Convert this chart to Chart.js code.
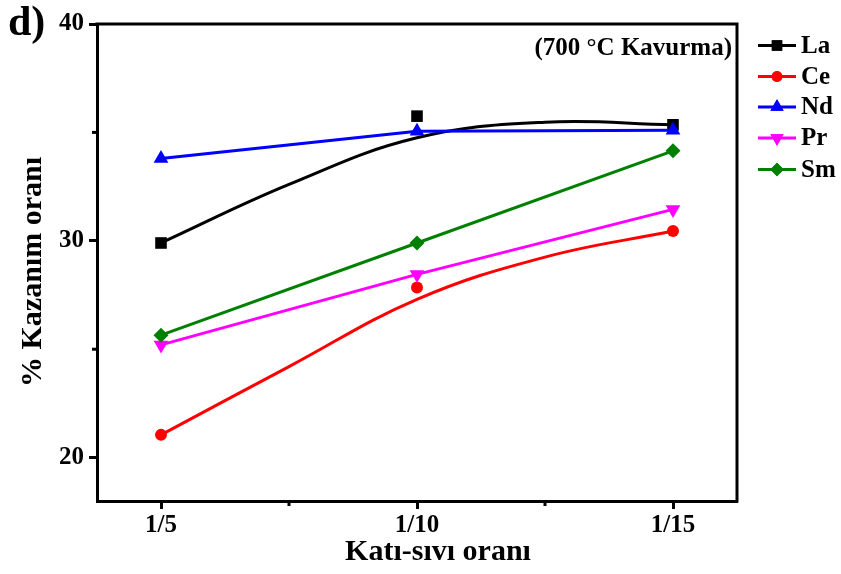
<!DOCTYPE html>
<html>
<head>
<meta charset="utf-8">
<script src="https://cdn.jsdelivr.net/npm/chart.js@4/dist/chart.umd.min.js"></script>
<style>
  html, body { margin: 0; padding: 0; background: #ffffff; }
  #wrap { width: 841px; height: 574px; position: relative; }
</style>
</head>
<body>
<div id="wrap"><canvas id="c" width="841" height="574"></canvas></div>
<script>
// Solid/liquid ratios on the x axis (placed at positions 1, 2, 3)
const categories = ['1/5', '1/10', '1/15'];
const xPos = [1, 2, 3];

// Recovery (%) per element after roasting at 700 °C
const La = [29.9, 35.75, 35.35];
const Ce = [21.05, 27.85, 30.45];
const Nd = [33.8, 35.05, 35.1];
const Pr = [25.2, 28.45, 31.45];
const Sm = [25.65, 29.9, 34.15];

// Smoothed fit curves for La and Ce, sampled at half-steps
const curveX = [1, 1.5, 2, 2.5, 3];
const laCurve = [29.9, 32.6, 34.75, 35.47, 35.35];
const ceCurve = [21.05, 24.2, 27.3, 29.25, 30.45];

// Axis ticks
const yTicks = [20, 25, 30, 35, 40];
const yMajor = [20, 30, 40];
const xTicks = [1, 1.5, 2, 2.5, 3];

const xTitle = 'Katı-sıvı oranı';
const yTitle = '% Kazanım oranı';
const note = '(700 \u00B0C Kavurma)';

const FONT = "'Liberation Serif', 'Times New Roman', serif";

const series = [
  { label: 'La', data: La, color: '#000000', style: 'rect', radius: 8.2, rotation: 0 },
  { label: 'Ce', data: Ce, color: '#ff0000', style: 'circle', radius: 6, rotation: 0 },
  { label: 'Nd', data: Nd, color: '#0000ff', style: 'triangle', radius: 8.5, rotation: 0 },
  { label: 'Pr', data: Pr, color: '#ff00ff', style: 'triangle', radius: 8.5, rotation: 180 },
  { label: 'Sm', data: Sm, color: '#008000', style: 'rectRot', radius: 7.5, rotation: 0 }
];

const pts = (xs, ys) => xs.map((x, i) => ({ x: x, y: ys[i] }));

const datasets = [];
// fitted curves
datasets.push({
  label: 'La fit', data: pts(curveX, laCurve), borderColor: '#000000', borderWidth: 3,
  pointRadius: 0, tension: 0.4, fill: false, order: 5
});
datasets.push({
  label: 'Ce fit', data: pts(curveX, ceCurve), borderColor: '#ff0000', borderWidth: 3,
  pointRadius: 0, tension: 0.4, fill: false, order: 5
});
series.forEach((s, i) => {
  const curved = (s.label === 'La' || s.label === 'Ce');
  datasets.push({
    label: s.label,
    data: pts(xPos, s.data),
    showLine: !curved,
    borderColor: s.color,
    backgroundColor: s.color,
    borderWidth: 3,
    tension: 0,
    pointStyle: s.style,
    pointRadius: s.radius,
    pointRotation: s.rotation,
    pointBorderWidth: 0,
    pointBackgroundColor: s.color,
    fill: false,
    order: 4 - i
  });
});

function drawMarker(ctx, style, r, rot, x, y) {
  if (Chart.helpers && Chart.helpers.drawPoint) {
    Chart.helpers.drawPoint(ctx, { pointStyle: style, radius: r, rotation: rot, borderWidth: 0 }, x, y);
    ctx.fill();
    return;
  }
  ctx.beginPath();
  ctx.arc(x, y, r, 0, Math.PI * 2);
  ctx.fill();
}

const decorations = {
  id: 'decorations',
  afterDraw(chart) {
    const ctx = chart.ctx;
    const a = chart.chartArea;
    const xs = chart.scales.x, ys = chart.scales.y;
    ctx.save();
    ctx.strokeStyle = '#000';
    ctx.lineWidth = 3;
    ctx.lineCap = 'butt';
    // top and right frame
    ctx.beginPath();
    ctx.moveTo(a.left - 1.5, a.top);
    ctx.lineTo(a.right, a.top);
    ctx.lineTo(a.right, a.bottom + 1.5);
    ctx.stroke();
    // minor ticks
    yTicks.filter(v => yMajor.indexOf(v) < 0).forEach(v => {
      const py = ys.getPixelForValue(v);
      ctx.beginPath(); ctx.moveTo(a.left - 5, py); ctx.lineTo(a.left, py); ctx.stroke();
    });
    xTicks.filter(v => !Number.isInteger(v)).forEach(v => {
      const px = xs.getPixelForValue(v);
      ctx.beginPath(); ctx.moveTo(px, a.bottom); ctx.lineTo(px, a.bottom + 5); ctx.stroke();
    });
    ctx.fillStyle = '#000';
    // axis titles
    ctx.font = 'bold 30px ' + FONT;
    ctx.textAlign = 'center';
    ctx.textBaseline = 'middle';
    ctx.fillText(xTitle, 438, 552);
    ctx.save();
    ctx.translate(33, 272);
    ctx.rotate(-Math.PI / 2);
    ctx.fillText(yTitle, 0, 0);
    ctx.restore();
    // annotation
    ctx.font = 'bold 25px ' + FONT;
    ctx.textAlign = 'right';
    ctx.textBaseline = 'middle';
    ctx.fillText(note, 732, 49);
    // panel letter
    ctx.font = 'bold 42px ' + FONT;
    ctx.textAlign = 'left';
    ctx.textBaseline = 'alphabetic';
    ctx.fillText('d)', 8, 35);
    // legend
    const legendY = [45.5, 76.5, 107, 138, 169.5];
    series.forEach((s, i) => {
      const y = legendY[i];
      ctx.strokeStyle = s.color;
      ctx.fillStyle = s.color;
      ctx.lineWidth = 3;
      ctx.beginPath(); ctx.moveTo(758, y); ctx.lineTo(796, y); ctx.stroke();
      drawMarker(ctx, s.style, s.radius * 0.9, s.rotation, 777, y);
      ctx.fillStyle = '#000';
      ctx.font = 'bold 25px ' + FONT;
      ctx.textAlign = 'left';
      ctx.textBaseline = 'middle';
      ctx.fillText(s.label, 801, y + 1);
    });
    ctx.restore();
  }
};

new Chart(document.getElementById('c'), {
  type: 'line',
  data: { datasets: datasets },
  options: {
    responsive: false,
    animation: false,
    devicePixelRatio: 1,
    layout: { padding: { left: 0, right: 104, top: 24, bottom: 0 } },
    plugins: { legend: { display: false }, tooltip: { enabled: false } },
    scales: {
      x: {
        type: 'linear',
        min: 0.75,
        max: 3.25,
        afterBuildTicks: s => { s.ticks = xTicks.map(v => ({ value: v })); },
        afterFit: s => { s.height = 73; },
        ticks: {
          autoSkip: false,
          maxRotation: 0,
          color: '#000',
          padding: 2,
          font: { family: FONT, size: 25, weight: 'bold' },
          callback: v => { const i = xPos.indexOf(v); return i >= 0 ? categories[i] : ''; }
        },
        grid: {
          drawOnChartArea: false,
          drawTicks: true,
          tickLength: 8,
          tickWidth: 3,
          tickColor: c => (c.tick && Number.isInteger(c.tick.value)) ? '#000' : 'rgba(0,0,0,0)'
        },
        border: { display: true, width: 3, color: '#000' },
        title: { display: false }
      },
      y: {
        type: 'linear',
        min: 18,
        max: 40,
        afterBuildTicks: s => { s.ticks = yTicks.map(v => ({ value: v })); },
        afterFit: s => { s.width = 97; },
        ticks: {
          color: '#000',
          padding: 5,
          font: { family: FONT, size: 25, weight: 'bold' },
          callback: v => (yMajor.indexOf(v) >= 0 ? String(v) : '')
        },
        grid: {
          drawOnChartArea: false,
          drawTicks: true,
          tickLength: 8,
          tickWidth: 3,
          tickColor: c => (c.tick && yMajor.indexOf(c.tick.value) >= 0) ? '#000' : 'rgba(0,0,0,0)'
        },
        border: { display: true, width: 3, color: '#000' },
        title: { display: false }
      }
    }
  },
  plugins: [decorations]
});
</script>
</body>
</html>
